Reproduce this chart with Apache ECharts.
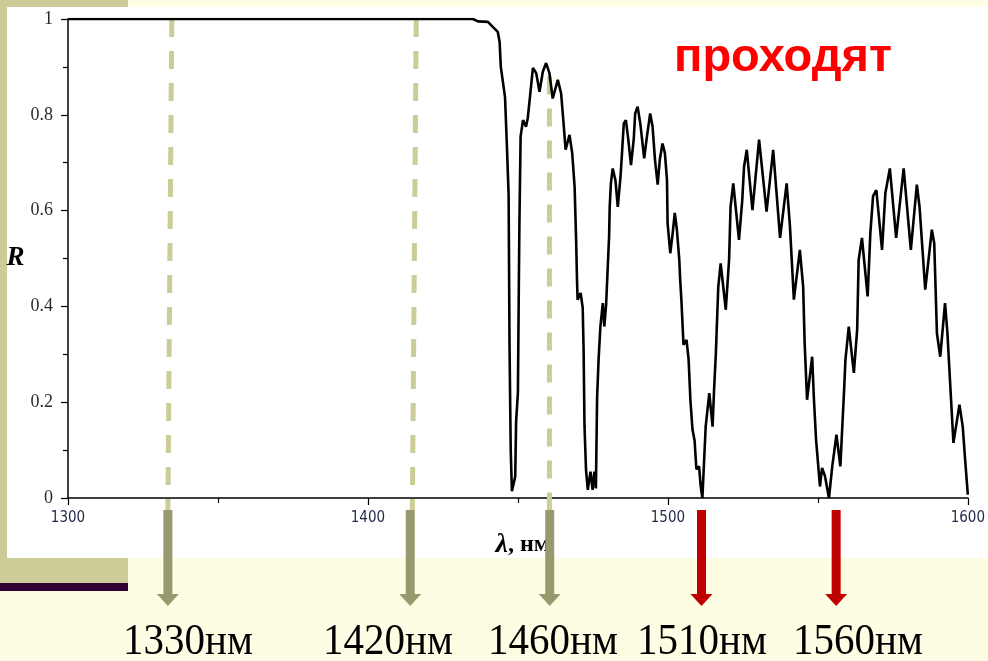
<!DOCTYPE html>
<html><head><meta charset="utf-8">
<script src="https://cdn.jsdelivr.net/npm/echarts@6/dist/echarts.min.js"></script>
<style>html,body{margin:0;padding:0;background:#fefde3;}#c{width:988px;height:661px;}</style>
</head><body><div id="c"></div>
<script>
// ---- data ----
const wavelength = [
1300,1435.0,1436.7,1440.0,1441.7,1443.3,1443.9,1444.3,1445.7,1446.3,1446.9,1447.2,1447.6,1448.0,
1449.1,1449.4,1450.0,1450.3,1450.5,1450.9,1451.7,1452.7,1453.3,1453.9,1455.0,1456.1,1457.2,1458.3,
1459.4,1460.5,1461.6,1463.3,1464.4,1465.3,1465.9,1467.2,1468.1,1468.9,1469.4,1469.7,1469.9,1470.9,
1471.6,1471.9,1472.2,1472.7,1473.3,1474.2,1474.9,1475.5,1476.0,1476.4,1476.9,1477.5,1478.3,1478.8,
1479.4,1480.2,1480.4,1480.6,1481.0,1481.6,1482.5,1483.3,1484.2,1484.7,1485.3,1486.0,1486.8,1487.7,
1488.6,1489.1,1489.9,1490.8,1492.1,1493.0,1494.1,1494.9,1495.7,1496.6,1497.3,1498.2,1499.0,1499.7,
1499.9,1500.8,1501.6,1502.3,1503.0,1503.8,1504.1,1504.5,1505.2,1506.2,1506.9,1507.5,1508.2,1508.9,
1509.5,1510.4,1510.9,1511.5,1512.1,1512.6,1513.8,1514.9,1515.4,1516.0,1516.8,1517.6,1519.3,1520.4,
1520.9,1521.8,1523.7,1524.8,1525.4,1526.3,1528.2,1530.4,1532.9,1535.1,1537.4,1539.6,1540.7,1542.0,
1544.0,1545.1,1545.6,1546.4,1548.1,1548.7,1549.4,1550.7,1551.4,1552.4,1553.7,1554.8,1556.2,1557.5,
1558.7,1559.2,1560.3,1562.0,1563.1,1563.6,1564.7,1566.6,1567.5,1568.4,1569.5,1571.4,1572.5,1574.0,
1576.1,1578.6,1581.0,1583.0,1583.9,1585.8,1588.0,1588.8,1589.7,1590.8,1592.4,1593.2,1594.1,1595.2,
1597.2,1598.3,1599.1,1600.0];
const reflectance = [
1.0,1.0,0.995,0.994,0.983,0.973,0.952,0.90,0.837,0.74,0.633,0.32,0.10,0.014,
0.045,0.16,0.22,0.44,0.575,0.755,0.789,0.775,0.794,0.83,0.898,0.887,0.848,0.89,
0.908,0.887,0.834,0.873,0.845,0.776,0.727,0.758,0.72,0.65,0.54,0.456,0.414,0.428,
0.397,0.31,0.15,0.059,0.017,0.055,0.017,0.055,0.02,0.21,0.29,0.358,0.407,0.358,
0.403,0.518,0.546,0.608,0.657,0.688,0.664,0.608,0.671,0.72,0.782,0.789,0.748,0.695,
0.748,0.803,0.817,0.782,0.709,0.754,0.803,0.775,0.706,0.654,0.706,0.74,0.72,0.664,
0.574,0.511,0.553,0.595,0.56,0.497,0.456,0.414,0.32,0.33,0.29,0.205,0.143,0.12,
0.06,0.066,0.027,0.0,0.003,0.149,0.219,0.149,0.226,0.303,0.441,0.49,0.393,0.497,
0.608,0.657,0.539,0.622,0.692,0.727,0.601,0.748,0.598,0.727,0.543,0.657,0.567,0.414,
0.518,0.441,0.323,0.205,0.295,0.205,0.122,0.024,0.063,0.045,0.0,0.066,0.132,0.066,
0.219,0.289,0.358,0.261,0.351,0.497,0.543,0.421,0.553,0.63,0.643,0.518,0.636,0.688,
0.543,0.688,0.518,0.654,0.608,0.435,0.56,0.532,0.344,0.295,0.407,0.344,0.24,0.115,
0.195,0.149,0.08,0.007];

const xMin = 1300, xMax = 1600, xStep = 100;
const yMin = 0, yMax = 1, yStep = 0.2;

// annotation markers (wavelengths as labelled, and where they are drawn on the axis)
const markerLabels = ['1330нм','1420нм','1460нм','1510нм','1560нм'];
const markerArrowAt = [1333.3, 1414.1, 1460.6, 1511.2, 1556.1];
const markerPasses = [false, false, false, true, true];
const guideTopAt = [1334.6, 1416.1, 1460.5];
const guideBottomAt = [1333.3, 1414.8, 1460.5];
const guideTopR = [1.0, 1.0, 0.88];
const passText = 'проходят';

// ---- layout (pixels) ----
const labelCenters = [188, 388, 553, 702, 858];

const chart = echarts.init(document.getElementById('c'));
const seriesData = wavelength.map((w, i) => [w, reflectance[i]]);

chart.setOption({
  backgroundColor: '#fefde3',
  animation: false,
  grid: {left: 68, right: 17, top: 19, bottom: 163},
  xAxis: {
    type: 'value', min: xMin, max: xMax, interval: xStep,
    axisLine: {show: true, onZero: false, lineStyle: {color: '#000', width: 1.5}},
    axisTick: {show: true, length: 7, lineStyle: {color: '#000', width: 1.2}},
    minorTick: {show: true, splitNumber: 2, length: 5, lineStyle: {color: '#000', width: 1.2}},
    splitLine: {show: false},
    axisLabel: {margin: 13, color: '#1f2a48', fontFamily: '"DejaVu Sans Condensed", "DejaVu Sans", sans-serif', fontSize: 15,
      formatter: v => String(v)},
    name: '{l|λ}{n|, нм}', nameLocation: 'middle', nameGap: 20,
    nameTextStyle: {padding: [0, 0, 0, 10], rich: {
      l: {fontFamily: '"Liberation Serif", serif', fontStyle: 'italic', fontWeight: 'bold', fontSize: 28, color: '#000'},
      n: {fontFamily: '"Liberation Serif", serif', fontWeight: 'bold', fontSize: 24, color: '#000'}
    }}
  },
  yAxis: {
    type: 'value', min: yMin, max: yMax, interval: yStep,
    axisLine: {show: true, lineStyle: {color: '#000', width: 1.5}},
    axisTick: {show: true, length: 7, lineStyle: {color: '#000', width: 1.2}},
    minorTick: {show: true, splitNumber: 2, length: 5, lineStyle: {color: '#000', width: 1.2}},
    splitLine: {show: false},
    axisLabel: {margin: 15, color: '#2b2b2b', fontFamily: '"Liberation Serif", serif', fontSize: 18},
    name: 'R', nameLocation: 'middle', nameGap: 41, nameRotate: 0,
    nameTextStyle: {fontFamily: '"Liberation Serif", serif', fontStyle: 'italic', fontWeight: 'bold', fontSize: 27, color: '#000'}
  },
  series: [{
    type: 'line', data: seriesData, showSymbol: false, symbol: 'none',
    lineStyle: {color: '#000', width: 2.6}, z: 3
  }]
});

const px = w => chart.convertToPixel({xAxisIndex: 0}, w);
const py = r => chart.convertToPixel({yAxisIndex: 0}, r);
const axisY = py(0);

const g = [];
// slide background pieces
g.push({type: 'rect', z: -20, silent: true, shape: {x: 0, y: 0, width: 128, height: 583}, style: {fill: '#cccc99'}});
g.push({type: 'rect', z: -20, silent: true, shape: {x: 0, y: 583, width: 128, height: 8}, style: {fill: '#330033'}});
g.push({type: 'rect', z: -19, silent: true, shape: {x: 7, y: 7, width: 981, height: 551}, style: {fill: '#ffffff'}});

// dashed guide lines
guideTopAt.forEach((w, i) => {
  g.push({type: 'line', z: 1, silent: true,
    shape: {x1: px(w), y1: py(guideTopR[i]), x2: px(guideBottomAt[i]), y2: axisY + 13},
    style: {stroke: '#cccc99', lineWidth: 5, lineDash: [18, 14]}});
});

// arrows
markerArrowAt.forEach((w, i) => {
  const cx = px(w);
  const col = markerPasses[i] ? '#c00000' : '#999970';
  g.push({type: 'rect', z: 10, silent: true, shape: {x: cx - 4.5, y: axisY + 12, width: 9, height: 85}, style: {fill: col}});
  g.push({type: 'polygon', z: 10, silent: true,
    shape: {points: [[cx - 11, axisY + 96], [cx + 11, axisY + 96], [cx, axisY + 108]]}, style: {fill: col}});
});

// bottom labels
markerLabels.forEach((t, i) => {
  g.push({type: 'text', z: 10, silent: true, x: labelCenters[i], y: 642, scaleY: 1.1,
    style: {text: t, fill: '#000', font: '41px "Liberation Serif", serif', textAlign: 'center', textVerticalAlign: 'middle'}});
});

// red caption
g.push({type: 'text', z: 10, silent: true, x: 674, y: 58,
  style: {text: passText, fill: '#ff0000', font: 'bold 47px Arial, "Liberation Sans", sans-serif', textAlign: 'left', textVerticalAlign: 'middle'}});

chart.setOption({graphic: g});
</script>
</body></html>
